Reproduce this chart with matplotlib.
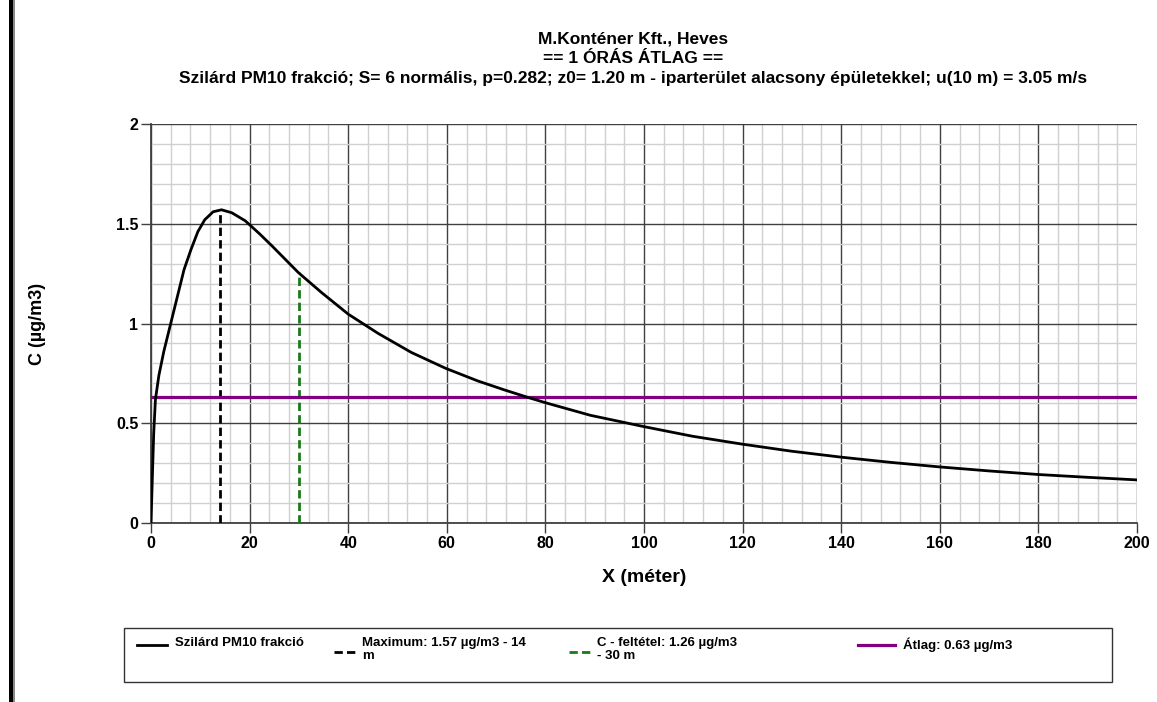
import numpy as np
import matplotlib
matplotlib.use("Agg")
import matplotlib.pyplot as plt
from matplotlib.lines import Line2D
from matplotlib.patches import Rectangle

plt.rcParams['font.family'] = ['Liberation Sans', 'DejaVu Sans']

# curve
x_m = [0, 0.3, 0.55, 0.9, 1.6, 2.6, 4.0, 5.4, 6.7, 8.1, 9.5, 10.9, 12.6, 14.3, 16.4,
       19.1, 20, 22, 24.5, 29.9, 34.6, 40, 46.1, 52.8, 59.8, 66.3, 71.7, 76.4, 80,
       89.1, 100, 109.8, 120, 129.9, 140, 150, 160, 170, 180, 190, 200]
conc = [0, 0.25, 0.45, 0.62, 0.74, 0.86, 1.0, 1.14, 1.27, 1.37, 1.46, 1.52, 1.56, 1.57,
        1.555, 1.515, 1.495, 1.45, 1.39, 1.255, 1.155, 1.047, 0.95, 0.855, 0.775, 0.712,
        0.667, 0.63, 0.603, 0.54, 0.483, 0.435, 0.395, 0.36, 0.33, 0.304, 0.281,
        0.261, 0.243, 0.229, 0.216]

max_x, max_c = 14, 1.57
cond_x, cond_c = 30, 1.26
avg_c = 0.63

title_lines = ["M.Konténer Kft., Heves",
               "== 1 ÓRÁS ÁTLAG ==",
               "Szilárd PM10 frakció; S= 6 normális, p=0.282; z0= 1.20 m - iparterület "
               "alacsony épületekkel; u(10 m) = 3.05 m/s"]
x_ticks = list(range(0, 201, 20))
y_ticks = [0, 0.5, 1, 1.5, 2]
y_tick_labels = ["0", "0.5", "1", "1.5", "2"]

legend_labels = ["Szilárd PM10 frakció",
                 "Maximum: 1.57 µg/m3 - 14\nm",
                 "C - feltétel: 1.26 µg/m3\n- 30 m",
                 "Átlag: 0.63 µg/m3"]

W, H = 1157, 702
fig = plt.figure(figsize=(W / 100, H / 100), dpi=100)
ax = fig.add_axes([151 / W, 1 - 523 / H, (1137 - 151) / W, (523 - 124) / H])

purple = '#800080'
green = '#1a7a1a'
dash = (0, (3, 1.5))

ax.plot(x_m, conc, color='black', lw=2.0, zorder=5, solid_joinstyle='round')
ax.plot([max_x, max_x], [0, max_c], color='black', lw=2.0, ls=dash, zorder=4)
ax.plot([cond_x, cond_x], [0, cond_c], color=green, lw=2.0, ls=dash, zorder=4)
ax.axhline(avg_c, color=purple, lw=2.3, zorder=4)

ax.set_xlim(0, 200)
ax.set_ylim(0, 2)
ax.set_xticks(x_ticks)
ax.set_yticks(y_ticks)
ax.set_yticklabels(y_tick_labels)
ax.set_xticks(np.arange(0, 201, 4), minor=True)
ax.set_yticks(np.arange(0, 2.01, 0.1), minor=True)
ax.grid(which='minor', color='#d0d0d0', lw=1)
ax.grid(which='major', color='#404040', lw=1)
ax.set_axisbelow(True)
ax.tick_params(which='major', direction='out', length=7, width=1, color='#404040',
               labelsize=11.5, pad=2)
ax.tick_params(which='minor', length=0)
for lab in ax.get_xticklabels() + ax.get_yticklabels():
    lab.set_fontweight('bold')
for s in ['top', 'right']:
    ax.spines[s].set_visible(False)
for s in ['left', 'bottom']:
    ax.spines[s].set_color('#404040')
    ax.spines[s].set_linewidth(1.3)

ax.set_xlabel("X (méter)", fontsize=14, fontweight='bold')
ax.xaxis.set_label_coords(0.5, -(578 - 523) / 399)
ax.xaxis.label.set_va('center')
ax.set_ylabel("C (µg/m3)", fontsize=13, fontweight='bold')
ax.yaxis.set_label_coords((38 - 151) / 986, 0.5)
ax.yaxis.label.set_va('center')

for yy, line in zip([43, 63, 83], title_lines):
    fig.text(633 / W, 1 - yy / H, line, ha='center', va='baseline',
             fontsize=12.5, fontweight='bold')

# legend box
lx0, lx1, ly0, ly1 = 124, 1112, 628, 682
fig.add_artist(Rectangle((lx0 / W, 1 - ly1 / H), (lx1 - lx0) / W, (ly1 - ly0) / H,
                         transform=fig.transFigure, fill=False, ec='#333333', lw=1))
# (color, style, handle x0, handle x1, handle y, text x)
handles = [('black', '-', 137, 167, 645, 175),
           ('black', dash, 334, 357, 652, 362),
           (green, dash, 569, 592, 652, 597),
           (purple, '-', 858, 895, 645, 903)]
for (col, ls, hx0, hx1, hy, tx), lab in zip(handles, legend_labels):
    fig.add_artist(Line2D([hx0 / W, hx1 / W], [1 - hy / H, 1 - hy / H],
                          transform=fig.transFigure, color=col, ls=ls,
                          lw=2.3 if col == purple else 2.0))
    fig.text(tx / W, 1 - 637 / H, lab, ha='left', va='top', fontsize=9.5,
             fontweight='bold', linespacing=1.15)

# dark bar at left edge
fig.add_artist(Rectangle((9 / W, 0), 4 / W, 1, transform=fig.transFigure,
                         color='black', lw=0))
fig.add_artist(Rectangle((13 / W, 0), 2 / W, 1, transform=fig.transFigure,
                         color='#888888', lw=0))

fig.savefig("out.png", dpi=100)
